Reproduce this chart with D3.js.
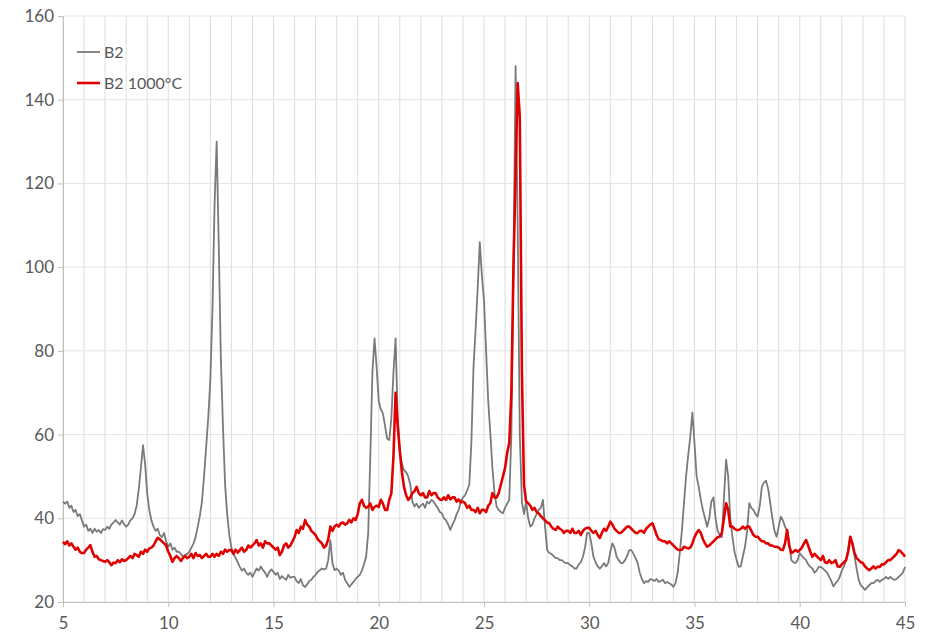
<!DOCTYPE html>
<html>
<head>
<meta charset="utf-8">
<script src="https://cdn.jsdelivr.net/npm/d3@7"></script>
<style>
  body { margin: 0; background: #fff; }
  svg { display: block; font-family: Lato, "Open Sans", sans-serif; }
</style>
</head>
<body>
<div id="chart"></div>
<script>
// 2-theta grid: 5.0 .. 45.0, step 0.1
var angleStart = 5, angleEnd = 45, angleStep = 0.1;

var b2 = [
  44, 43.5, 44, 42.5, 43, 41.5, 42, 40.5, 41, 39.5,
  38, 38.5, 37, 37.5, 36.5, 37.5, 36.8, 37.2, 36.5, 37.4,
  37.2, 38, 37.5, 38.5, 39, 39.6, 39, 38.5, 39.5, 38.6,
  38, 38.5, 39.5, 40, 41, 43, 47, 52, 57.5, 53,
  46, 42, 39.5, 38, 37, 37.5, 36, 35.5, 36.5, 34.5,
  33.2, 34, 32.5, 33, 32, 32, 31.5, 30.8, 31.2, 31.5,
  32, 33, 34, 35.5, 38, 40.5, 44, 50, 57, 64,
  73, 90, 115, 130, 105, 78, 62, 48, 41, 36,
  33, 31.5, 30.5, 29.5, 28.4, 27.5, 28, 27, 26.5, 27,
  26, 27, 28, 27.5, 28.5, 27.6, 27, 26, 27.2, 27.8,
  27.2, 26.5, 27, 25.5, 26.2, 25.7, 25.3, 26.5, 25.8, 26,
  26, 25, 24.5, 25.5, 24, 23.6, 24.2, 25, 25.3, 26,
  26.5, 27.2, 27.6, 28, 27.8, 28, 30, 34.8, 29.3, 27.6,
  28, 27.5, 26.5, 27, 25.3, 24.5, 23.6, 24.2, 24.8, 25.5,
  26, 26.5, 27.5, 29, 30.8, 36.5, 55, 75, 83, 76,
  68, 66, 65, 62, 59, 58.7, 64, 75, 83, 64,
  55.6, 53, 51.5, 51, 50, 48, 44, 42.8, 43.5, 42.5,
  43, 43.5, 42.5, 44, 43.5, 44.4, 44, 43.2, 42.5, 41.5,
  41.2, 40, 39.5, 38.5, 37.2, 38.5, 39.5, 41, 42, 44,
  45, 45.5, 46.7, 48, 58, 76, 85, 95, 106, 98,
  92, 80, 68, 60.4, 52, 46, 42.8, 42, 41.5, 41.2,
  42.5, 43.5, 44.4, 60, 100, 148, 110, 60, 44, 41,
  44, 40, 38, 38.5, 40, 41, 42, 42.5, 44.4, 38,
  32.4, 31.7, 31.5, 31, 30.5, 30.5, 30, 30, 29.5, 29.3,
  29.3, 28.8, 28.5, 28, 28, 29, 29.5, 30.8, 33, 36.5,
  36.5, 34, 30.8, 29.5, 28.5, 28, 28.5, 29.3, 28.5, 29.3,
  32, 34, 33, 30.8, 30, 29.3, 29.3, 30, 31, 32.4,
  32.4, 31.5, 30.5, 29.3, 27, 25.5, 24.5, 25, 24.8, 25.5,
  25.3, 25, 25.5, 24.8, 25, 25.3, 24.5, 24.8, 24.5, 24.2,
  23.6, 24.5, 27, 31.7, 37, 43.6, 50, 55, 59.5, 65.3,
  58, 50, 47.5, 44.4, 42, 40, 38, 40, 44, 45,
  40, 37, 36, 35.5, 45, 54, 50, 40, 35.6, 32,
  30, 28.4, 28.5, 31, 33.2, 37, 43.6, 42.5, 42, 41,
  40.4, 43, 47.5, 48.5, 49, 47, 43.6, 40, 37, 35.6,
  38, 40.4, 39.5, 38, 37, 34, 30, 29.5, 29.3, 30,
  31.7, 31, 30.5, 30, 29, 28.4, 28, 27, 27.5, 28.4,
  28.4, 28, 27.5, 27, 26, 25, 23.7, 24.5, 25, 26,
  27.5, 28.5, 30, 32.5, 35.6, 34, 31, 28, 25.3, 24,
  23.5, 22.9, 23.5, 24, 24.5, 24.5, 25, 25.3, 24.8, 25.3,
  25.5, 26, 25.5, 26, 25.5, 25.3, 25.5, 26, 26.5, 27,
  28.4
];

var b2Fired = [
  34.4, 33.8, 34.5, 33.5, 34, 33.2, 32.5, 33, 32, 31.7,
  31.7, 32.5, 33, 33.6, 32, 30.8, 31, 30.2, 30, 29.8,
  29.6, 30, 29.5, 28.8, 29.4, 29.3, 30, 29.5, 30.2, 29.8,
  30, 30.5, 31, 30.5, 31.5, 31.2, 30.8, 32, 31.5, 32.5,
  32, 32.8, 33, 33.5, 34.5, 35.3, 35, 34.5, 34, 33.5,
  32, 31, 29.6, 30.5, 31, 30.5, 29.8, 30.5, 31, 30.5,
  30.8, 31.5, 30.5, 31.7, 31, 31.2, 30.5, 31, 31.5, 30.8,
  30.8, 31.5, 30.8, 31.5, 31, 32, 31.5, 32.5, 32, 32.4,
  32.4, 31.5, 32.5, 31.8, 32.4, 33, 32, 32.4, 33.5, 33,
  33.5, 34, 34.8, 33.5, 34, 33, 34.5, 34, 34, 33.5,
  33, 32.5, 33, 31.2, 32, 33.5, 34, 33, 33.5, 34.5,
  35.5, 37.2, 36.5, 38, 37.5, 39.6, 38.5, 38, 37, 36.5,
  36, 35, 34.5, 34, 33, 33.5, 35, 38, 37, 38,
  38.5, 38, 38.8, 39, 38.5, 38.8, 39.6, 39, 40, 39.6,
  41, 43.6, 44.4, 43, 42.5, 42.8, 43.5, 42, 42.7, 43,
  42.7, 44.4, 43.5, 42, 42, 44.4, 46, 55, 70, 62,
  56.3, 51, 47.5, 45.5, 44.4, 45, 46, 46.5, 47.5, 46,
  45.5, 46, 45, 45, 46.5, 45.5, 46, 46, 45, 44.5,
  44.4, 45, 44.4, 45.5, 44.5, 45, 45, 44, 44.5, 43.8,
  44, 43.6, 42.5, 43, 42, 42, 41.5, 42.5, 41.2, 42,
  42, 41.5, 43, 43.6, 46, 45, 45, 46, 48, 50,
  52, 55.6, 58, 70, 100, 122, 144, 136, 75, 48,
  44, 43.6, 43, 42, 42.5, 41.5, 41.2, 40.5, 40, 39.5,
  39, 38.8, 38, 37.5, 37.2, 38, 37.5, 37.2, 36.5, 37,
  37, 36.5, 37.5, 36.5, 36.5, 37, 36, 37, 37.5, 37.7,
  37.7, 37, 36.5, 37, 36, 35.3, 36.5, 37.5, 37, 38,
  39.2, 38.5, 37.5, 37, 36.5, 36.5, 37, 37.5, 38, 38,
  37.5, 37, 36.5, 36.5, 37, 37, 36.5, 37.5, 38, 38.5,
  38.8, 37.5, 36, 35, 34.8, 34.5, 34.5, 34, 34.5, 34,
  33.5, 33, 32.5, 32.4, 32.5, 33.2, 33, 32.8, 33, 34,
  35.5, 36.5, 37.2, 36.5, 35, 34, 33.2, 33.5, 34, 34.5,
  35, 35.5, 35.6, 36.5, 40, 43.6, 42, 38, 38, 37.5,
  37.2, 37.2, 37.5, 38, 37.5, 38, 38, 37, 36, 35.6,
  35.6, 35, 34.5, 34.5, 34, 34, 33.5, 33.5, 33.2, 33.2,
  33, 32.5, 32.4, 34, 37.2, 33.5, 31.7, 32, 32.4, 32,
  32.4, 33, 34, 34.8, 33.5, 32, 30.8, 31.5, 31, 30.5,
  30, 31, 29.5, 29.3, 30, 29.3, 29.5, 30, 28.5, 28.4,
  29, 29.5, 30, 32, 35.6, 34, 31.7, 30.5, 30, 29.5,
  29.3, 28.5, 28, 27.6, 28, 28.5, 28, 28.4, 28.4, 29,
  29, 29.5, 30, 30, 30.5, 31, 31.5, 32.4, 32, 31.5,
  30.8
];

var seriesNames = ["B2", "B2 1000°C"];
var seriesColors = ["#7a7a7a", "#e00000"];
var seriesWidths = [1.8, 2.6];
var xTicks = [5, 10, 15, 20, 25, 30, 35, 40, 45];
var yTicks = [20, 40, 60, 80, 100, 120, 140, 160];

var width = 926, height = 641;
var margin = { top: 16, right: 21, bottom: 39, left: 63 };

var svg = d3.select("#chart").append("svg")
    .attr("width", width)
    .attr("height", height);

var x = d3.scaleLinear().domain([angleStart, angleEnd]).range([margin.left, width - margin.right]);
var y = d3.scaleLinear().domain([20, 160]).range([height - margin.bottom, margin.top]);

var angles = b2.map(function (d, i) { return +(angleStart + i * angleStep).toFixed(1); });

// grid
var minor = d3.range(angleStart, angleEnd + 1, 1);
svg.append("g").selectAll("line").data(minor).enter().append("line")
    .attr("x1", function (d) { return x(d); })
    .attr("x2", function (d) { return x(d); })
    .attr("y1", y(20))
    .attr("y2", y(160))
    .attr("stroke", "#dcdcdc")
    .attr("stroke-width", 1);

svg.append("g").selectAll("line").data(yTicks).enter().append("line")
    .attr("x1", x(angleStart))
    .attr("x2", x(angleEnd))
    .attr("y1", function (d) { return y(d); })
    .attr("y2", function (d) { return y(d); })
    .attr("stroke", "#e4e4e4")
    .attr("stroke-width", 1);

// axes
var xAxis = svg.append("g")
    .attr("transform", "translate(0," + y(20) + ")")
    .call(d3.axisBottom(x).tickValues(xTicks).tickSize(5).tickPadding(10));
var yAxis = svg.append("g")
    .attr("transform", "translate(" + x(angleStart) + ",0)")
    .call(d3.axisLeft(y).tickValues(yTicks).tickSize(5).tickPadding(4));

[xAxis, yAxis].forEach(function (a) {
    a.selectAll("path").attr("stroke", "#bfbfbf");
    a.selectAll("line").attr("stroke", "#bfbfbf");
    a.selectAll("text")
        .attr("fill", "#595959")
        .style("font-size", "17px")
        .style("font-family", "Lato, 'Open Sans', sans-serif");
});

// lines
var line = d3.line()
    .x(function (d, i) { return x(angles[i]); })
    .y(function (d) { return y(d); });

[b2, b2Fired].forEach(function (s, i) {
    svg.append("path").datum(s)
        .attr("fill", "none")
        .attr("stroke", seriesColors[i])
        .attr("stroke-width", seriesWidths[i])
        .attr("stroke-linejoin", "round")
        .attr("d", line);
});

// legend
var legend = svg.append("g").attr("transform", "translate(77,52)");
seriesNames.forEach(function (name, i) {
    var g = legend.append("g").attr("transform", "translate(0," + (i * 31) + ")");
    g.append("line")
        .attr("x1", 0).attr("x2", 23)
        .attr("y1", 0).attr("y2", 0)
        .attr("stroke", seriesColors[i])
        .attr("stroke-width", seriesWidths[i]);
    g.append("text")
        .attr("x", 27)
        .attr("y", 0)
        .attr("dy", "0.35em")
        .attr("fill", "#595959")
        .style("font-size", "16px")
        .text(name);
});
</script>
</body>
</html>
